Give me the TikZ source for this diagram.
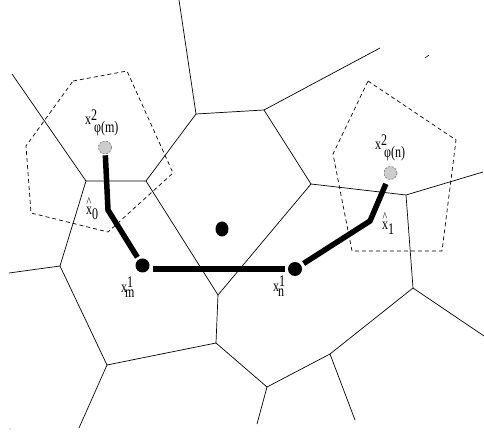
\documentclass[tikz,border=0pt]{standalone}
\usepackage{fontspec}
\usepackage{graphicx}
\usetikzlibrary{shapes.geometric}
\setmainfont{Liberation Serif}
\newcommand\stlab[1]{\scalebox{1}[1.35]{#1}}
\newcommand\hatmark{\rlap{\kern0.3pt\raisebox{6.5pt}{\fontsize{10}{12}\selectfont\textasciicircum}}}
\begin{document}
\begin{tikzpicture}[x=1pt,y=-1pt,
  edge/.style={line width=0.7pt},
  dashpoly/.style={line width=0.7pt, dash pattern=on 4pt off 3pt},
  blackdot/.style={circle, fill=black, inner sep=0pt, minimum size=14pt},
  graydot/.style={circle, fill=black!20, draw=black!55, dash pattern=on 2pt off 1.5pt, line width=0.6pt, inner sep=0pt, minimum size=13pt},
  thickp/.style={line width=5.5pt},
  lbl/.style={inner sep=0pt, anchor=base west, font=\fontsize{12}{14}\selectfont}]
\useasboundingbox (0,0) rectangle (484,435);
% Voronoi vertices
\coordinate (A) at (196,114);
\coordinate (B) at (264,110);
\coordinate (C) at (311,184);
\coordinate (D) at (406,195);
\coordinate (E) at (413,288);
\coordinate (F) at (330,354);
\coordinate (G) at (267,387);
\coordinate (H) at (216,343);
\coordinate (I) at (218,295);
\coordinate (J) at (107,365);
\coordinate (K) at (60,266);
\coordinate (L) at (86,181);
\coordinate (M) at (146,181);
% free ends
\coordinate (eA) at (179,0);
\coordinate (eB) at (380,48);
\coordinate (eD) at (483,172);
\coordinate (eE) at (484,336);
\coordinate (eF) at (355,420);
\coordinate (eG) at (257,424);
\coordinate (eJ) at (79,428);
\coordinate (eK) at (9,273);
\coordinate (eL) at (12,74);
\draw[edge] (eA) -- (A) -- (B) -- (eB);
\draw[edge] (B) -- (C) -- (D) -- (eD);
\draw[edge] (D) -- (E) -- (eE);
\draw[edge] (E) -- (F) -- (eF);
\draw[edge] (F) -- (G) -- (eG);
\draw[edge] (G) -- (H) -- (I);
\draw[edge] (H) -- (J) -- (eJ);
\draw[edge] (J) -- (K) -- (eK);
\draw[edge] (K) -- (L) -- (eL);
\draw[edge] (L) -- (M) -- (A);
\draw[edge] (M) -- (I) -- (C);
% stray marks
\coordinate (t1) at (425,58);
\coordinate (t2) at (429,55);
\draw[line width=0.6pt] (t1) -- (t2);
\fill[black!40] (10,429) circle (0.6pt);
% dashed polygons
\draw[dashpoly] (73,81) -- (127,71) -- (173,173) -- (108,232) -- (31,213) -- (26,146) -- cycle;
\draw[dashpoly] (368,81) -- (456,140) -- (442,251) -- (352,251) -- (333,154) -- cycle;
% points
\node[graydot] (pm) at (105,147.5) {};
\node[graydot] (pn) at (390.5,173) {};
\node[blackdot] (xm) at (142.5,265.5) {};
\node[blackdot] (xn) at (295,269) {};
\node[ellipse, fill=black, inner sep=0pt, minimum width=13pt, minimum height=15pt] (c) at (222,229) {};
\coordinate (h0) at (108,210);
\coordinate (h1) at (370,221);
% thick paths
\draw[thickp, shorten <=1pt, shorten >=2.5pt] (pm) -- (h0) -- (xm);
\draw[thickp] ([xshift=3pt,yshift=-3.5pt]xm.east) -- ([xshift=-3pt]xn.west);
\draw[thickp, shorten <=3pt, shorten >=5pt] (xn) -- (h1) -- (pn);
% labels
\node[lbl] (lpm) at (85,125) {\stlab{x\rlap{\raisebox{3pt}{2}}\kern3pt\raisebox{-5.5pt}{φ(m)}}};
\node[lbl] (lpn) at (375,150) {\stlab{x\rlap{\raisebox{3pt}{2}}\kern3pt\raisebox{-5.5pt}{φ(n)}}};
\node[lbl] (lxm) at (121,293) {\stlab{x\rlap{\raisebox{4.4pt}{1}}\kern-2pt\raisebox{-3.7pt}{m}}};
\node[lbl] (lxn) at (273,292) {\stlab{x\rlap{\raisebox{4.4pt}{1}}\kern-1pt\raisebox{-3.7pt}{n}}};
\node[lbl] (lh0) at (86,215) {\stlab{\hatmark x\raisebox{-3.7pt}{0}}};
\node[lbl] (lh1) at (382,230) {\stlab{\hatmark x\raisebox{-3.7pt}{1}}};
\end{tikzpicture}
\end{document}
